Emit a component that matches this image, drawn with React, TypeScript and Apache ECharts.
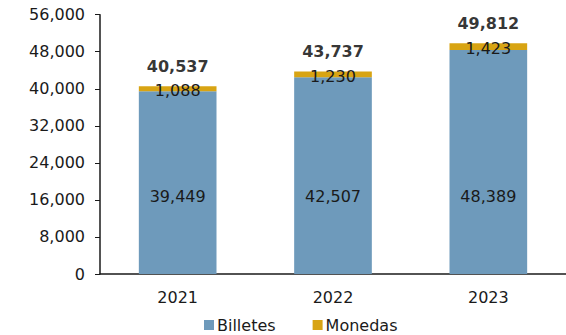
import React, { useEffect, useRef } from "react";
import * as echarts from "echarts";

const categories = ["2021", "2022", "2023"];
const billetes = [39449, 42507, 48389];
const monedas = [1088, 1230, 1423];
const totals = billetes.map((v, i) => v + monedas[i]);

const FONT = "DejaVu Sans";
const fmt = (v: number) => v.toLocaleString("en-US");

export default function App() {
  const ref = useRef<HTMLDivElement>(null);
  useEffect(() => {
    if (!ref.current) return;
    const chart = echarts.init(ref.current, null, { renderer: "svg" });
    chart.setOption({
      animation: false,
      textStyle: { fontFamily: FONT },
      grid: { left: 100, top: 14.7, width: 472, height: 259.3, containLabel: false },
      legend: {
        data: ["Billetes", "Monedas"],
        left: 204,
        top: 317,
        padding: 0,
        icon: "rect",
        itemWidth: 10,
        itemHeight: 10,
        itemGap: 37,
        textStyle: { fontFamily: FONT, fontSize: 16, color: "#1a1a1a", padding: [0, 0, 0, -2] },
      },
      xAxis: {
        type: "category",
        data: categories,
        axisLine: { lineStyle: { color: "#1a1a1a", width: 1.5 } },
        axisTick: { inside: true, length: 5, lineStyle: { color: "#1a1a1a" } },
        axisLabel: { fontFamily: FONT, fontSize: 16, color: "#1a1a1a", margin: 15 },
      },
      yAxis: {
        type: "value",
        min: 0,
        max: 56000,
        interval: 8000,
        splitLine: { show: false },
        axisLine: { show: true, lineStyle: { color: "#1a1a1a", width: 1.5 } },
        axisTick: { show: true, length: 5, lineStyle: { color: "#1a1a1a" } },
        axisLabel: {
          fontFamily: FONT,
          fontSize: 16,
          color: "#1a1a1a",
          margin: 15,
          formatter: (v: number) => fmt(v),
        },
      },
      series: [
        {
          name: "Billetes",
          type: "bar",
          stack: "t",
          barWidth: "50%",
          data: billetes,
          itemStyle: { color: "#6e9abb" },
          label: {
            show: true,
            position: "insideBottom",
            distance: 70,
            fontFamily: FONT,
            fontSize: 16,
            color: "#1a1a1a",
            formatter: (p: any) => fmt(p.value),
          },
        },
        {
          name: "Monedas",
          type: "bar",
          stack: "t",
          barWidth: "50%",
          data: monedas,
          itemStyle: { color: "#d8a413" },
          label: {
            show: true,
            position: "inside",
            offset: [0, 2],
            fontFamily: FONT,
            fontSize: 16,
            color: "#1a1a1a",
            formatter: (p: any) => fmt(p.value),
          },
        },
        {
          name: "Total",
          type: "scatter",
          data: totals,
          symbolSize: 0,
          silent: true,
          z: 10,
          label: {
            show: true,
            position: "top",
            distance: 12,
            fontFamily: FONT,
            fontSize: 16,
            fontWeight: "bold",
            color: "#000",
            formatter: (p: any) => fmt(p.value),
          },
        },
      ],
    });
    return () => chart.dispose();
  }, []);
  return <div ref={ref} style={{ width: 566, height: 335, position: "absolute", left: 0, top: 0 }} />;
}
